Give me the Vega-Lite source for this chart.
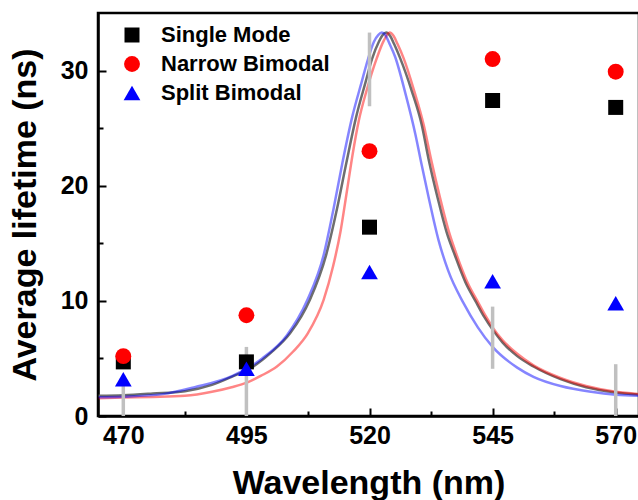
{
  "$schema": "https://vega.github.io/schema/vega-lite/v6.json",
  "autosize": "none",
  "width": 541,
  "height": 403,
  "padding": {"left": 98, "top": 13, "right": 0, "bottom": 84},
  "background": "white",
  "config": {
    "view": {"stroke": "black", "strokeWidth": 2.5},
    "font": "Liberation Sans"
  },
  "datasets": {
    "curves": [
      {"curve": "grey", "wl": 465, "v": 1.75},
      {"curve": "grey", "wl": 470, "v": 1.8},
      {"curve": "grey", "wl": 476, "v": 1.95},
      {"curve": "grey", "wl": 482.5, "v": 2.15},
      {"curve": "grey", "wl": 488, "v": 2.7},
      {"curve": "grey", "wl": 492, "v": 3.4},
      {"curve": "grey", "wl": 496.4, "v": 4.3},
      {"curve": "grey", "wl": 500, "v": 5.5},
      {"curve": "grey", "wl": 503.9, "v": 7.2},
      {"curve": "grey", "wl": 507.9, "v": 10.1},
      {"curve": "grey", "wl": 511.2, "v": 14.0},
      {"curve": "grey", "wl": 513.4, "v": 18.0},
      {"curve": "grey", "wl": 515.3, "v": 22.0},
      {"curve": "grey", "wl": 517.3, "v": 26.0},
      {"curve": "grey", "wl": 519.2, "v": 29.0},
      {"curve": "grey", "wl": 520.5, "v": 31.0},
      {"curve": "grey", "wl": 521.9, "v": 32.5},
      {"curve": "grey", "wl": 522.7, "v": 33.1},
      {"curve": "grey", "wl": 523.4, "v": 33.3},
      {"curve": "grey", "wl": 524.2, "v": 33.0},
      {"curve": "grey", "wl": 525.0, "v": 32.3},
      {"curve": "grey", "wl": 526.2, "v": 31.1},
      {"curve": "grey", "wl": 528.6, "v": 28.2},
      {"curve": "grey", "wl": 530.6, "v": 25.3},
      {"curve": "grey", "wl": 532.0, "v": 22.3},
      {"curve": "grey", "wl": 533.8, "v": 19.0},
      {"curve": "grey", "wl": 535.7, "v": 15.9},
      {"curve": "grey", "wl": 537.3, "v": 14.0},
      {"curve": "grey", "wl": 539.5, "v": 11.6},
      {"curve": "grey", "wl": 541.5, "v": 10.0},
      {"curve": "grey", "wl": 543.3, "v": 8.6},
      {"curve": "grey", "wl": 545, "v": 7.5},
      {"curve": "grey", "wl": 547, "v": 6.4},
      {"curve": "grey", "wl": 550, "v": 5.2},
      {"curve": "grey", "wl": 553.3, "v": 4.3},
      {"curve": "grey", "wl": 558.8, "v": 3.2},
      {"curve": "grey", "wl": 564, "v": 2.5},
      {"curve": "grey", "wl": 570, "v": 2.05},
      {"curve": "grey", "wl": 575, "v": 1.85},
      {"curve": "red", "wl": 465, "v": 1.55},
      {"curve": "red", "wl": 470, "v": 1.6},
      {"curve": "red", "wl": 476, "v": 1.65},
      {"curve": "red", "wl": 482.5, "v": 1.75},
      {"curve": "red", "wl": 488, "v": 2.1},
      {"curve": "red", "wl": 492, "v": 2.5},
      {"curve": "red", "wl": 495.1, "v": 2.9},
      {"curve": "red", "wl": 498, "v": 3.5},
      {"curve": "red", "wl": 501.2, "v": 4.3},
      {"curve": "red", "wl": 504.5, "v": 5.6},
      {"curve": "red", "wl": 507.5, "v": 7.2},
      {"curve": "red", "wl": 510.7, "v": 10.1},
      {"curve": "red", "wl": 512.6, "v": 13.0},
      {"curve": "red", "wl": 514.1, "v": 16.0},
      {"curve": "red", "wl": 515.4, "v": 19.5},
      {"curve": "red", "wl": 516.6, "v": 22.8},
      {"curve": "red", "wl": 517.8, "v": 25.6},
      {"curve": "red", "wl": 519.5, "v": 28.4},
      {"curve": "red", "wl": 521.5, "v": 31.1},
      {"curve": "red", "wl": 522.9, "v": 32.6},
      {"curve": "red", "wl": 524.1, "v": 33.3},
      {"curve": "red", "wl": 524.9, "v": 33.0},
      {"curve": "red", "wl": 525.7, "v": 32.3},
      {"curve": "red", "wl": 526.9, "v": 31.1},
      {"curve": "red", "wl": 529.1, "v": 28.2},
      {"curve": "red", "wl": 531.0, "v": 25.3},
      {"curve": "red", "wl": 532.5, "v": 22.3},
      {"curve": "red", "wl": 534.3, "v": 19.0},
      {"curve": "red", "wl": 536.2, "v": 15.9},
      {"curve": "red", "wl": 537.7, "v": 14.0},
      {"curve": "red", "wl": 539.9, "v": 11.6},
      {"curve": "red", "wl": 541.9, "v": 10.0},
      {"curve": "red", "wl": 543.7, "v": 8.6},
      {"curve": "red", "wl": 545, "v": 7.7},
      {"curve": "red", "wl": 547, "v": 6.6},
      {"curve": "red", "wl": 550, "v": 5.4},
      {"curve": "red", "wl": 553.3, "v": 4.4},
      {"curve": "red", "wl": 558.8, "v": 3.3},
      {"curve": "red", "wl": 564, "v": 2.6},
      {"curve": "red", "wl": 570, "v": 2.1},
      {"curve": "red", "wl": 575, "v": 1.9},
      {"curve": "blue", "wl": 465, "v": 1.62},
      {"curve": "blue", "wl": 470, "v": 1.68},
      {"curve": "blue", "wl": 478, "v": 1.9},
      {"curve": "blue", "wl": 484.5, "v": 2.5},
      {"curve": "blue", "wl": 492.3, "v": 3.5},
      {"curve": "blue", "wl": 498.2, "v": 5.0},
      {"curve": "blue", "wl": 503.2, "v": 7.0},
      {"curve": "blue", "wl": 507.3, "v": 10.0},
      {"curve": "blue", "wl": 510.7, "v": 14.0},
      {"curve": "blue", "wl": 512.7, "v": 18.0},
      {"curve": "blue", "wl": 514.5, "v": 22.0},
      {"curve": "blue", "wl": 516.5, "v": 26.0},
      {"curve": "blue", "wl": 518.4, "v": 29.0},
      {"curve": "blue", "wl": 519.7, "v": 31.0},
      {"curve": "blue", "wl": 520.9, "v": 32.5},
      {"curve": "blue", "wl": 521.8, "v": 33.1},
      {"curve": "blue", "wl": 522.5, "v": 33.3},
      {"curve": "blue", "wl": 523.2, "v": 33.1},
      {"curve": "blue", "wl": 524.0, "v": 32.4},
      {"curve": "blue", "wl": 525.2, "v": 31.2},
      {"curve": "blue", "wl": 527.3, "v": 28.0},
      {"curve": "blue", "wl": 529.3, "v": 24.5},
      {"curve": "blue", "wl": 530.6, "v": 21.8},
      {"curve": "blue", "wl": 532.0, "v": 19.0},
      {"curve": "blue", "wl": 534.0, "v": 15.3},
      {"curve": "blue", "wl": 536.0, "v": 12.6},
      {"curve": "blue", "wl": 539.1, "v": 9.8},
      {"curve": "blue", "wl": 542.0, "v": 7.7},
      {"curve": "blue", "wl": 545, "v": 6.0},
      {"curve": "blue", "wl": 550, "v": 4.2},
      {"curve": "blue", "wl": 553.3, "v": 3.4},
      {"curve": "blue", "wl": 558.8, "v": 2.6},
      {"curve": "blue", "wl": 565, "v": 2.1},
      {"curve": "blue", "wl": 570, "v": 1.85},
      {"curve": "blue", "wl": 575, "v": 1.75}
    ],
    "bars": [
      {"wl": 470, "lo": 0, "hi": 3.0},
      {"wl": 495, "lo": 0, "hi": 6.0},
      {"wl": 520, "lo": 26.9, "hi": 33.3},
      {"wl": 545, "lo": 4.1, "hi": 9.5},
      {"wl": 570, "lo": 0, "hi": 4.5}
    ],
    "points": [
      {"series": "Single Mode", "wl": 470, "v": 4.7},
      {"series": "Single Mode", "wl": 495, "v": 4.7},
      {"series": "Single Mode", "wl": 520, "v": 16.4},
      {"series": "Single Mode", "wl": 545, "v": 27.4},
      {"series": "Single Mode", "wl": 570, "v": 26.8},
      {"series": "Narrow Bimodal", "wl": 470, "v": 5.2},
      {"series": "Narrow Bimodal", "wl": 495, "v": 8.75},
      {"series": "Narrow Bimodal", "wl": 520, "v": 23.0},
      {"series": "Narrow Bimodal", "wl": 545, "v": 31.0},
      {"series": "Narrow Bimodal", "wl": 570, "v": 29.9},
      {"series": "Split Bimodal", "wl": 470, "v": 3.2},
      {"series": "Split Bimodal", "wl": 495, "v": 4.1},
      {"series": "Split Bimodal", "wl": 520, "v": 12.5},
      {"series": "Split Bimodal", "wl": 545, "v": 11.7},
      {"series": "Split Bimodal", "wl": 570, "v": 9.8}
    ]
  },
  "encoding": {
    "x": {
      "field": "wl", "type": "quantitative",
      "scale": {"domain": [464.86, 574.73], "nice": false, "zero": false},
      "axis": {
        "title": "Wavelength (nm)",
        "values": [470, 482.5, 495, 507.5, 520, 532.5, 545, 557.5, 570],
        "labelExpr": "datum.value % 1 == 0 ? datum.label : ''",
        "labelOverlap": false,
        "labelFont": "Liberation Sans", "labelFontSize": 25, "labelFontWeight": "bold", "labelColor": "black",
        "labelPadding": 15,
        "tickSize": {"condition": {"test": "datum.value % 1 != 0", "value": -5}, "value": -8},
        "tickWidth": 2, "tickColor": "black",
        "domainColor": "black", "domainWidth": 2.5,
        "grid": false,
        "titleFont": "Liberation Sans", "titleFontSize": 34, "titleFontWeight": "bold", "titleColor": "black",
        "titlePadding": 15
      }
    },
    "y": {
      "type": "quantitative",
      "scale": {"domain": [0, 35], "nice": false},
      "axis": {
        "title": "Average lifetime (ns)",
        "values": [0, 5, 10, 15, 20, 25, 30],
        "labelExpr": "datum.value % 10 == 0 ? datum.label : ''",
        "labelOverlap": false,
        "labelFont": "Liberation Sans", "labelFontSize": 25, "labelFontWeight": "bold", "labelColor": "black",
        "labelPadding": 18,
        "tickSize": {"condition": {"test": "datum.value % 10 != 0", "value": -5}, "value": -8},
        "tickWidth": 2, "tickColor": "black",
        "domainColor": "black", "domainWidth": 2.5,
        "grid": false,
        "titleFont": "Liberation Sans", "titleFontSize": 34, "titleFontWeight": "bold", "titleColor": "black",
        "titlePadding": 18
      }
    }
  },
  "layer": [
    {
      "data": {"name": "curves"},
      "transform": [{"filter": "datum.curve == 'grey'"}],
      "mark": {"type": "line", "interpolate": "monotone", "strokeWidth": 2.5, "color": "#6e6e6e"},
      "encoding": {"y": {"field": "v"}, "order": {"field": "wl", "type": "quantitative"}}
    },
    {
      "data": {"name": "curves"},
      "transform": [{"filter": "datum.curve == 'red'"}],
      "mark": {"type": "line", "interpolate": "monotone", "strokeWidth": 2.5, "color": "#ff0000", "opacity": 0.48},
      "encoding": {"y": {"field": "v"}, "order": {"field": "wl", "type": "quantitative"}}
    },
    {
      "data": {"name": "curves"},
      "transform": [{"filter": "datum.curve == 'blue'"}],
      "mark": {"type": "line", "interpolate": "monotone", "strokeWidth": 2.5, "color": "#0000ff", "opacity": 0.48},
      "encoding": {"y": {"field": "v"}, "order": {"field": "wl", "type": "quantitative"}}
    },
    {
      "data": {"name": "bars"},
      "mark": {"type": "rule", "color": "#c0c0c0", "strokeWidth": 3.5},
      "encoding": {
        "y": {"field": "lo"},
        "y2": {"field": "hi"}
      }
    },
    {
      "data": {"name": "points"},
      "mark": {"type": "point", "filled": true, "opacity": 1},
      "encoding": {
        "y": {"field": "v"},
        "color": {
          "field": "series", "type": "nominal",
          "scale": {"domain": ["Single Mode", "Narrow Bimodal", "Split Bimodal"], "range": ["#000000", "#ff0000", "#0000ff"]},
          "legend": {
            "title": null, "orient": "none", "legendX": 23, "legendY": 11,
            "labelFont": "Liberation Sans", "labelFontSize": 22, "labelFontWeight": "bold", "labelColor": "black",
            "labelLimit": 400,
            "symbolSize": 260,
            "labelOffset": 18, "rowPadding": 7, "padding": 0,
            "symbolStrokeWidth": 0, "symbolOpacity": 1
          }
        },
        "shape": {
          "field": "series", "type": "nominal",
          "scale": {"domain": ["Single Mode", "Narrow Bimodal", "Split Bimodal"], "range": ["square", "circle", "triangle-up"]},
          "legend": null
        },
        "size": {
          "field": "series", "type": "nominal",
          "scale": {"domain": ["Single Mode", "Narrow Bimodal", "Split Bimodal"], "range": [225, 280, 330]},
          "legend": null
        }
      }
    }
  ]
}
